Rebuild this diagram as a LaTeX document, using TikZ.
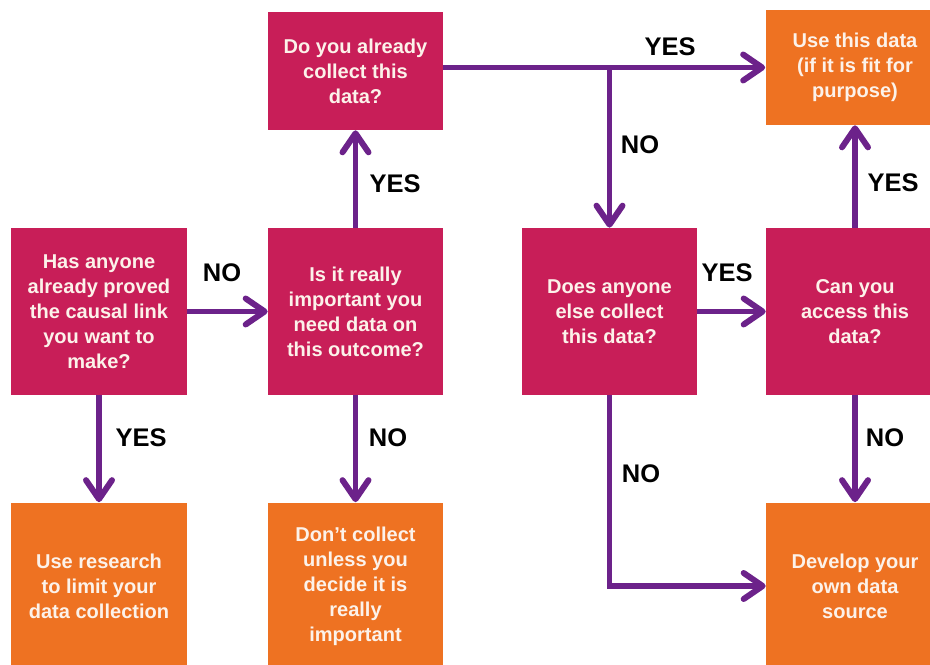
\documentclass[tikz,border=0pt]{standalone}
\usepackage{fontspec}
\setmainfont{Liberation Sans}
\usepackage{tikz}
\usepackage{xcolor}
\usetikzlibrary{arrows.meta}
\usetikzlibrary{positioning}

\definecolor{qbox}{RGB}{200,30,88}
\definecolor{abox}{RGB}{238,114,34}
\definecolor{flowpurple}{RGB}{108,34,138}
\definecolor{boxtext}{RGB}{252,242,234}

\tikzset{
  question/.style={fill=qbox, text=boxtext, minimum width=3.5cm, minimum height=3.34cm,
    inner sep=0pt, align=center, font=\bfseries\fontsize{11.4}{14.2}\selectfont},
  answer/.style={question, fill=abox},
  flow/.style={draw=flowpurple, line width=3.4pt,
    -{Straight Barb[round,length=0.38cm,width=0.52cm]}},
  lbl/.style={font=\bfseries\fontsize{14.5}{17}\selectfont, text=black, inner sep=0pt}
}

\begin{document}
\begin{tikzpicture}
\useasboundingbox (0,0) rectangle (18.6,13.28);
\clip (0,0) rectangle (18.6,13.28);

% questions
\node[question] (proved) at (1.98,7.05) {Has anyone\\already proved\\the causal link\\you want to\\make?};
\node[question] (important) at (7.11,7.05) {Is it really\\important you\\need data on\\this outcome?};
\node[question, minimum height=2.36cm] (collect) at (7.11,11.86) {Do you already\\collect this\\data?};
\node[question] (else) at (12.19,7.05) {Does anyone\\else collect\\this data?};
\node[question, minimum width=3.56cm] (access) at (17.1,7.05) {Can you\\access this\\data?};

% answers
\node[answer, minimum width=3.58cm, minimum height=2.3cm] (usedata) at (17.1,11.93) {Use this data\\(if it is fit for\\purpose)};
\node[answer] (research) at (1.98,1.56) {Use research\\to limit your\\data collection};
\node[answer] (dont) at (7.11,1.56) {Don't collect\\unless you\\decide it is\\really\\important};
\node[answer, minimum width=3.56cm] (develop) at (17.1,1.56) {Develop your\\own data\\source};

% connectors
\coordinate (split) at (else.north |- usedata.west);
\draw[flow] (proved) -- (important);
\draw[flow] (proved) -- (research);
\draw[flow] (important) -- (collect);
\draw[flow] (important) -- (dont);
\draw[flow] (collect.east |- usedata.west) -- (usedata.west);
\draw[flow] (split) -- (else.north);
\draw[flow] (else) -- (access);
\draw[flow] (access) -- (usedata);
\draw[flow] (access) -- (develop);
\draw[flow] (else.south) |- (develop.west);

% labels
\node[lbl] (noprove) at (4.44,7.82) {NO};
\node[lbl] (yesprove) at (2.82,4.52) {YES};
\node[lbl] (yesimp) at (7.9,9.6) {YES};
\node[lbl] (noimp) at (7.76,4.52) {NO};
\node[lbl] (yescoll) at (13.4,12.34) {YES};
\node[lbl] (nocoll) at (12.8,10.38) {NO};
\node[lbl] (yeselse) at (14.54,7.82) {YES};
\node[lbl] (noelse) at (12.82,3.8) {NO};
\node[lbl] (yesacc) at (17.86,9.62) {YES};
\node[lbl] (noacc) at (17.7,4.52) {NO};

\end{tikzpicture}
\end{document}
